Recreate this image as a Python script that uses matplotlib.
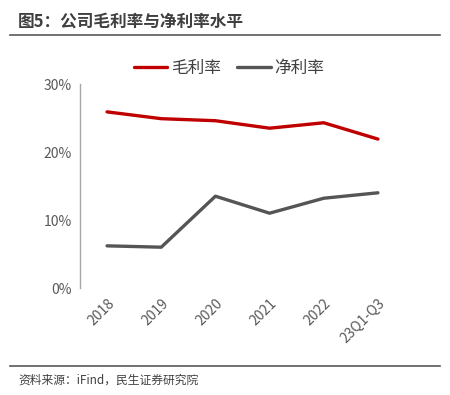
import matplotlib
matplotlib.use("Agg")
import matplotlib.pyplot as plt
from matplotlib.lines import Line2D
import matplotlib.transforms as mtransforms

plt.rcParams['font.family'] = ['Noto Sans CJK SC', 'DejaVu Sans']

categories = ["2018", "2019", "2020", "2021", "2022", "23Q1-Q3"]
gross_margin = [25.9, 24.9, 24.6, 23.5, 24.3, 21.9]
net_margin = [6.2, 6.0, 13.5, 11.0, 13.2, 14.0]
yticks = [0, 10, 20, 30]
ytick_labels = ["0%", "10%", "20%", "30%"]

W, H = 450, 395
fig = plt.figure(figsize=(W / 100, H / 100), dpi=100)

ax = fig.add_axes([80 / W, 1 - 288 / H, (405 - 80) / W, (288 - 84) / H])
x = list(range(len(categories)))
ax.plot(x, gross_margin, color="#C00000", lw=2.4, solid_capstyle="round", label="毛利率")
ax.plot(x, net_margin, color="#555555", lw=2.4, solid_capstyle="round", label="净利率")
ax.set_xlim(-0.5, len(categories) - 0.5)
ax.set_ylim(0, 30)
ax.set_yticks(yticks)
ax.set_yticklabels(ytick_labels, fontsize=10, color="#595959")
ax.set_xticks(x)
ax.set_xticklabels(categories, rotation=45, ha="right", rotation_mode="anchor",
                   fontsize=10, color="#595959")
offset = mtransforms.ScaledTranslation(6 / 100, 0, fig.dpi_scale_trans)
for lbl in ax.get_xticklabels():
    lbl.set_transform(lbl.get_transform() + offset)
ax.tick_params(axis="both", length=0, pad=6)
for s in ["top", "right"]:
    ax.spines[s].set_visible(False)
ax.spines["bottom"].set_visible(False)
ax.spines["left"].set_color("#A6A6A6")
ax.spines["left"].set_linewidth(1.0)

leg = fig.legend(loc="center", bbox_to_anchor=(229 / W, 1 - 68 / H), ncol=2, frameon=False,
                 fontsize=12, handlelength=2.0, handletextpad=0.2, columnspacing=1.0)
for t in leg.get_texts():
    t.set_color("#404040")

fig.text(18 / W, 1 - 22 / H, "图5：公司毛利率与净利率水平", fontsize=12, fontweight="bold",
         color="#404040", va="center", ha="left")
fig.add_artist(Line2D([10 / W, 440 / W], [1 - 35 / H, 1 - 35 / H], color="#595959", lw=1.2))
fig.add_artist(Line2D([10 / W, 440 / W], [1 - 366 / H, 1 - 366 / H], color="#595959", lw=1.2))
fig.text(18 / W, 1 - 380 / H, "资料来源：iFind，民生证券研究院", fontsize=8.5,
         color="#404040", va="center", ha="left")

fig.savefig("out.png", dpi=100)
